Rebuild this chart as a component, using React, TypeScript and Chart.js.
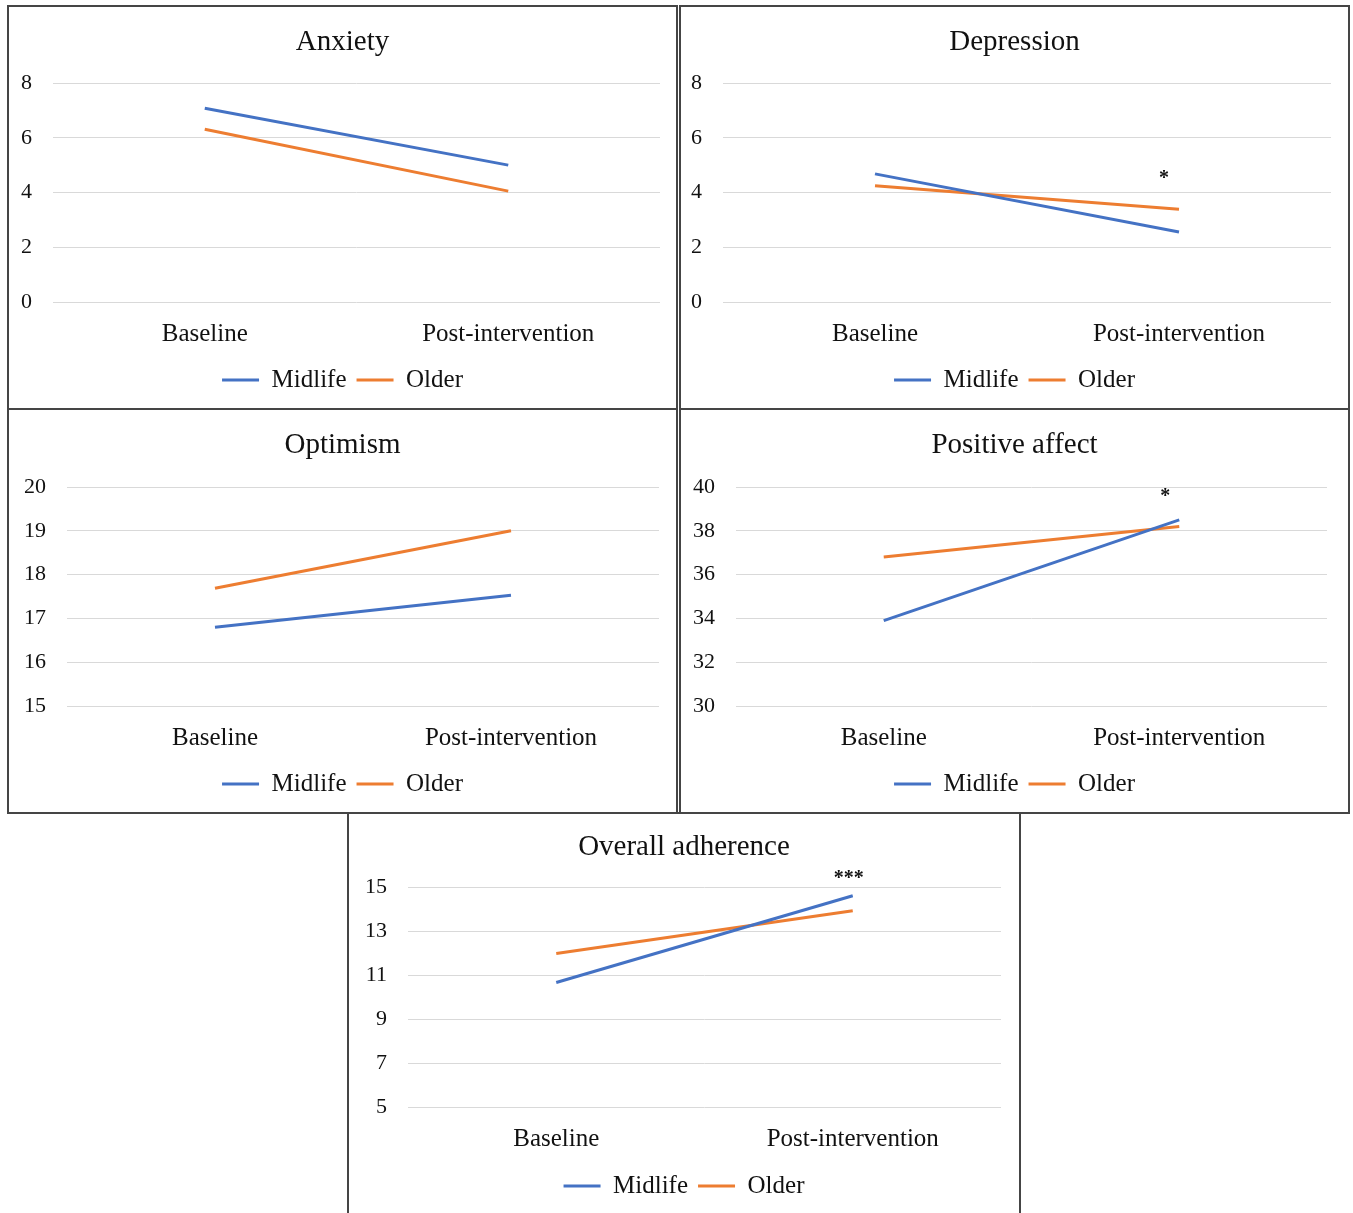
import React, { useEffect, useRef } from "react";
import { Chart, registerables } from "chart.js";

Chart.register(...registerables);

// ---------- DATA ----------
const categories = ["Baseline", "Post-intervention"];
const seriesNames = ["Midlife", "Older"];

const anxietyMidlife = [7.08, 5.0];
const anxietyOlder = [6.31, 4.05];
const anxietyTicks = [0, 2, 4, 6, 8];

const depressionMidlife = [4.68, 2.56];
const depressionOlder = [4.25, 3.39];
const depressionTicks = [0, 2, 4, 6, 8];
const depressionSig = ["", "*"];
const depressionSigValue = 4.63;

const optimismMidlife = [16.8, 17.53];
const optimismOlder = [17.69, 19.0];
const optimismTicks = [15, 16, 17, 18, 19, 20];

const positiveMidlife = [33.9, 38.5];
const positiveOlder = [36.8, 38.2];
const positiveTicks = [30, 32, 34, 36, 38, 40];
const positiveSig = ["", "*"];
const positiveSigValue = 39.72;

const adherenceMidlife = [10.66, 14.6];
const adherenceOlder = [11.98, 13.92];
const adherenceTicks = [5, 7, 9, 11, 13, 15];
const adherenceSig = ["", "***"];
const adherenceSigValue = 15.56;

// ---------- STYLE ----------
const BLUE = "#4472C4";
const ORANGE = "#ED7D31";
const TEXT = "#111111";
const GRID = "#d9d9d9";
const FONT = "'Liberation Serif', 'Times New Roman', serif";

const sigPlugin = {
  id: "sig",
  afterDatasetsDraw(chart: any, _args: any, opts: any) {
    const labels: string[] | undefined = opts && opts.labels;
    if (!labels) return;
    const ctx = chart.ctx;
    const xs = chart.scales.x;
    const ys = chart.scales.y;
    ctx.save();
    ctx.font = `bold 20px ${FONT}`;
    ctx.fillStyle = TEXT;
    ctx.textAlign = "center";
    ctx.textBaseline = "middle";
    labels.forEach((lab, i) => {
      if (!lab) return;
      ctx.fillText(lab, xs.getPixelForValue(i) + (opts.dx || 0), ys.getPixelForValue(opts.value) + (opts.dy || 0));
    });
    ctx.restore();
  },
};

type Box = { left: number; top: number; width: number; height: number };
type Geo = { yw: number; rp: number; tpt: number; tpb: number; xh: number; xpad: number; lpb: number };

type PanelProps = {
  title: string;
  midlife: number[];
  older: number[];
  ticks: number[];
  sig?: string[];
  sigValue?: number;
  sigDx?: number;
  box: Box;
  geo: Geo;
};

function Panel(p: PanelProps) {
  const ref = useRef<HTMLCanvasElement | null>(null);
  const cw = p.box.width - 4;
  const ch = p.box.height - 4;

  useEffect(() => {
    if (!ref.current) return;
    const t = p.ticks;
    const chart = new Chart(ref.current, {
      type: "line",
      data: {
        labels: categories,
        datasets: [
          {
            label: seriesNames[0],
            data: p.midlife,
            borderColor: BLUE,
            backgroundColor: BLUE,
            borderWidth: 3,
            pointRadius: 0,
            tension: 0,
          },
          {
            label: seriesNames[1],
            data: p.older,
            borderColor: ORANGE,
            backgroundColor: ORANGE,
            borderWidth: 3,
            pointRadius: 0,
            tension: 0,
          },
        ],
      },
      options: {
        responsive: false,
        animation: false,
        devicePixelRatio: 1,
        layout: { padding: { left: 0, right: 0, top: 0, bottom: p.geo.lpb } },
        scales: {
          x: {
            offset: true,
            grid: { display: false, drawTicks: false },
            border: { display: false },
            ticks: { padding: p.geo.xpad, font: { family: FONT, size: 25 }, color: TEXT },
            afterFit: (s: any) => {
              s.height = p.geo.xh;
            },
          },
          y: {
            min: t[0],
            max: t[t.length - 1],
            afterBuildTicks: (s: any) => {
              s.ticks = t.map((v) => ({ value: v }));
            },
            ticks: { padding: 21, font: { family: FONT, size: 22 }, color: TEXT },
            grid: { color: GRID, lineWidth: 1, drawTicks: false },
            border: { display: false },
            afterFit: (s: any) => {
              s.width = p.geo.yw;
            },
          },
          yr: {
            position: "right",
            display: true,
            grid: { display: false, drawTicks: false },
            border: { display: false },
            ticks: { display: false },
            afterFit: (s: any) => {
              s.width = p.geo.rp;
            },
          },
        },
        plugins: {
          title: {
            display: true,
            text: p.title,
            color: TEXT,
            font: { family: FONT, size: 29, weight: "normal" },
            padding: { top: p.geo.tpt, bottom: p.geo.tpb },
          },
          legend: {
            position: "bottom",
            labels: {
              boxWidth: 37,
              boxHeight: 3,
              padding: 10,
              color: TEXT,
              font: { family: FONT, size: 25 },
              generateLabels: (c: any) =>
                Chart.defaults.plugins.legend.labels
                  .generateLabels(c)
                  .map((l: any) => ({ ...l, lineWidth: 0 })),
            },
          },
          tooltip: { enabled: false },
          sig: p.sig ? { labels: p.sig, value: p.sigValue, dx: p.sigDx || 0, dy: 4 } : {},
        } as any,
      },
      plugins: [sigPlugin],
    } as any);
    return () => chart.destroy();
  }, []);

  return (
    <div
      style={{
        position: "absolute",
        left: p.box.left,
        top: p.box.top,
        width: p.box.width,
        height: p.box.height,
        border: "2px solid #454545",
        boxSizing: "border-box",
        background: "#fff",
      }}
    >
      <canvas ref={ref} width={cw} height={ch} style={{ display: "block", width: cw, height: ch }} />
    </div>
  );
}

export default function App() {
  return (
    <div
      style={{
        position: "absolute",
        left: 0,
        top: 0,
        width: 1353,
        height: 1213,
        overflow: "hidden",
        background: "#fff",
      }}
    >
      <Panel
        title="Anxiety"
        midlife={anxietyMidlife}
        older={anxietyOlder}
        ticks={anxietyTicks}
        box={{ left: 7, top: 5, width: 671, height: 405 }}
        geo={{ yw: 44, rp: 16, tpt: 17.6, tpb: 23.6, xh: 55.5, xpad: 17, lpb: 5.5 }}
      />
      <Panel
        title="Depression"
        midlife={depressionMidlife}
        older={depressionOlder}
        ticks={depressionTicks}
        sig={depressionSig}
        sigValue={depressionSigValue}
        sigDx={-15}
        box={{ left: 679, top: 5, width: 671, height: 405 }}
        geo={{ yw: 42, rp: 17, tpt: 17.6, tpb: 23.6, xh: 55.5, xpad: 17, lpb: 5.5 }}
      />
      <Panel
        title="Optimism"
        midlife={optimismMidlife}
        older={optimismOlder}
        ticks={optimismTicks}
        box={{ left: 7, top: 408, width: 671, height: 406 }}
        geo={{ yw: 58, rp: 17, tpt: 17.6, tpb: 24.6, xh: 55.5, xpad: 17, lpb: 5.5 }}
      />
      <Panel
        title="Positive affect"
        midlife={positiveMidlife}
        older={positiveOlder}
        ticks={positiveTicks}
        sig={positiveSig}
        sigValue={positiveSigValue}
        sigDx={-14}
        box={{ left: 679, top: 408, width: 671, height: 406 }}
        geo={{ yw: 55, rp: 21, tpt: 17.6, tpb: 24.6, xh: 55.5, xpad: 17, lpb: 5.5 }}
      />
      <Panel
        title="Overall adherence"
        midlife={adherenceMidlife}
        older={adherenceOlder}
        ticks={adherenceTicks}
        sig={adherenceSig}
        sigValue={adherenceSigValue}
        sigDx={-4}
        box={{ left: 347, top: 812, width: 674, height: 403 }}
        geo={{ yw: 59, rp: 18, tpt: 15.6, tpb: 22.6, xh: 56.5, xpad: 17, lpb: 4.5 }}
      />
    </div>
  );
}
